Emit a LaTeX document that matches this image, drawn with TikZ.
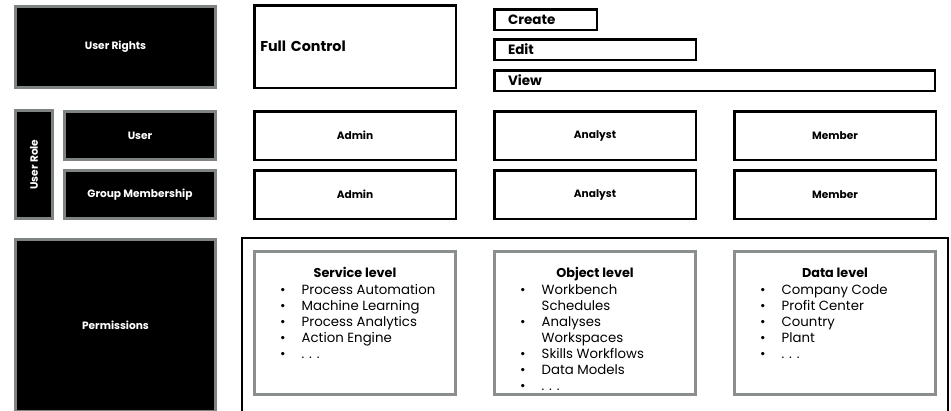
\documentclass[tikz,border=0pt]{standalone}
\usepackage{fontspec}
\setmainfont{Poppins}
\definecolor{darkframe}{HTML}{7F8483}
\definecolor{lvlframe}{HTML}{8A8F8E}

\begin{document}
\begin{tikzpicture}[x=1pt, y=-1pt,
    darkbox/.style={draw=darkframe, line width=3pt, fill=black, text=white,
        font=\bfseries\fontsize{10.6}{12}\selectfont},
    rolebox/.style={draw=black, line width=2.5pt, fill=white,
        minimum width=201.5pt, minimum height=48.5pt,
        font=\bfseries\fontsize{10.6}{12}\selectfont},
    rightbox/.style={draw=black, line width=2.5pt, minimum height=20.5pt,
        inner xsep=13.75pt, inner ysep=0pt, align=left,
        font=\bfseries\fontsize{13.5}{15}\selectfont},
    lvlbox/.style={draw=lvlframe, line width=3pt, minimum width=201pt, minimum height=143pt},
    lvltitle/.style={anchor=base, inner sep=0pt, font=\bfseries\fontsize{12.8}{16}\selectfont},
    lvllist/.style={anchor=north west, inner sep=0pt, font=\fontsize{13.3}{16}\selectfont},
]
\useasboundingbox (0,0) rectangle (951,410);

% left column
\node[darkbox, minimum width=200pt, minimum height=81pt] (rights) at (115.5,47) {User Rights};
\node[darkbox, rotate=90, minimum width=108pt, minimum height=37pt] (role) at (34,164.5) {User Role};
\node[darkbox, minimum width=151pt, minimum height=48pt] (user) at (140,135.5) {User};
\node[darkbox, minimum width=151pt, minimum height=48pt] (group) at (140,194.5) {Group Membership};
\node[darkbox, minimum width=200pt, minimum height=172pt] (perms) at (115.5,325) {Permissions};

% user rights
\node[rightbox, minimum height=82.5pt, inner xsep=6pt, text width=189.5pt,
    font=\bfseries\fontsize{14.3}{16}\selectfont] (full) at (355,46.5) {Full Control};
\node[rightbox, text width=75pt] (create) at (545.5,19.5) {Create};
\node[rightbox, text width=174pt] (edit) at (595,49.5) {Edit};
\node[rightbox, text width=413pt] (view) at (714.5,80.5) {View};

% roles
\node[rolebox] (useradmin) at (355,135.5) {Admin};
\node[rolebox] (useranalyst) at (595,135.5) {Analyst};
\node[rolebox] (usermember) at (835,135.5) {Member};
\node[rolebox] (groupadmin) at (355,194.5) {Admin};
\node[rolebox] (groupanalyst) at (595,194.5) {Analyst};
\node[rolebox] (groupmember) at (835,194.5) {Member};

% permissions
\node[draw=black, line width=2pt, minimum width=706pt, minimum height=175pt] (permframe) at (595,325) {};

\node[lvlbox] (service) at (355,323) {};
\node[lvltitle] (servicetitle) at ([yshift=-27.5pt]service.north) {Service level};
\node[lvllist] (servicelist) at ([xshift=27pt,yshift=-33pt]service.north west) {%
    \begin{tabular}{@{}p{21.5pt}@{}l@{}}
    \textbullet & Process Automation\\
    \textbullet & Machine Learning\\
    \textbullet & Process Analytics\\
    \textbullet & Action Engine\\
    \textbullet & . . .
    \end{tabular}};

\node[lvlbox] (object) at (595,323) {};
\node[lvltitle] (objecttitle) at ([yshift=-27.5pt]object.north) {Object level};
\node[lvllist] (objectlist) at ([xshift=27pt,yshift=-33pt]object.north west) {%
    \begin{tabular}{@{}p{21.5pt}@{}l@{}}
    \textbullet & Workbench\\
                & Schedules\\
    \textbullet & Analyses\\
                & Workspaces\\
    \textbullet & Skills Workflows\\
    \textbullet & Data Models\\
    \textbullet & . . .
    \end{tabular}};

\node[lvlbox] (data) at (835,323) {};
\node[lvltitle] (datatitle) at ([yshift=-27.5pt]data.north) {Data level};
\node[lvllist] (datalist) at ([xshift=27pt,yshift=-33pt]data.north west) {%
    \begin{tabular}{@{}p{21.5pt}@{}l@{}}
    \textbullet & Company Code\\
    \textbullet & Profit Center\\
    \textbullet & Country\\
    \textbullet & Plant\\
    \textbullet & . . .
    \end{tabular}};
\end{tikzpicture}
\end{document}
